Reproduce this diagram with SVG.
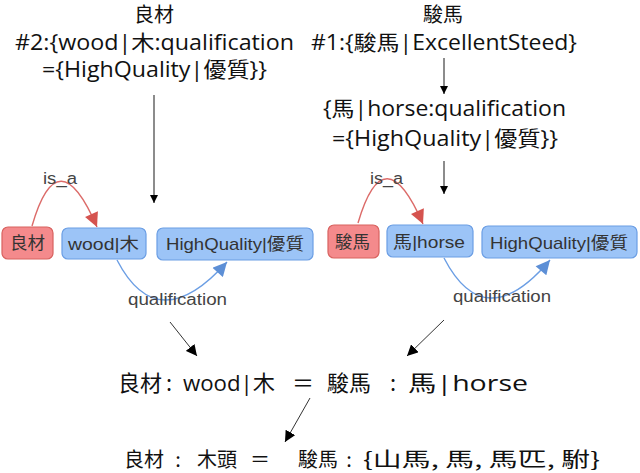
<svg xmlns="http://www.w3.org/2000/svg" width="640" height="473" viewBox="0 0 640 473">
<style>
.t{font-family:"Open Sans","Noto Sans CJK TC",sans-serif;fill:#111;}
.c{font-family:"Noto Sans CJK TC","Noto Sans CJK SC",sans-serif;fill:#111;}
.nl{font-family:"Liberation Sans","Noto Sans CJK TC",sans-serif;font-size:17px;fill:#333;}
.lbl{font-family:"Liberation Sans",sans-serif;font-size:16px;fill:#444;}
.red{fill:#f48a8c;stroke:#d8625f;stroke-width:1.2;}
.blue{fill:#9cc4f7;stroke:#6b9ee4;stroke-width:1.2;}
.blk{stroke:#666;stroke-width:1.5;fill:none;}
.thin{stroke:#333;stroke-width:1;fill:none;}
</style>
<defs>
<marker id="ah" viewBox="0 0 10 10" refX="10" refY="5" markerWidth="8" markerHeight="8" markerUnits="userSpaceOnUse" orient="auto"><path d="M0,0 L10,5 L0,10 z" fill="#000"/></marker>
<marker id="ah2" viewBox="0 0 10 10" refX="10" refY="5" markerWidth="11" markerHeight="11" markerUnits="userSpaceOnUse" orient="auto"><path d="M0,0 L10,5 L0,10 z" fill="#000"/></marker>
<marker id="ar" viewBox="0 0 10 10" refX="10" refY="5" markerWidth="16" markerHeight="14" markerUnits="userSpaceOnUse" orient="auto"><path d="M0,0 L10,5 L0,10 z" fill="#d5534f"/></marker>
<marker id="ab" viewBox="0 0 10 10" refX="10" refY="5" markerWidth="16" markerHeight="14" markerUnits="userSpaceOnUse" orient="auto"><path d="M0,0 L10,5 L0,10 z" fill="#5d8fd6"/></marker>
</defs>

<g id="top-left-text">
<text class="c" x="154" y="22" font-size="20" text-anchor="middle">良材</text>
<text class="t" x="15" y="50" font-size="21" textLength="279" lengthAdjust="spacingAndGlyphs">#2:{wood|木:qualification</text>
<text class="t" x="42" y="77" font-size="21" textLength="225" lengthAdjust="spacingAndGlyphs">={HighQuality|優質}}</text>
</g>
<g id="top-right-text">
<text class="c" x="443" y="22" font-size="20" text-anchor="middle">駿馬</text>
<text class="t" x="311" y="50" font-size="21" textLength="266" lengthAdjust="spacingAndGlyphs">#1:{駿馬|ExcellentSteed}</text>
<text class="t" x="323" y="116" font-size="21" textLength="243" lengthAdjust="spacingAndGlyphs">{馬|horse:qualification</text>
<text class="t" x="332" y="146" font-size="21" textLength="226" lengthAdjust="spacingAndGlyphs">={HighQuality|優質}}</text>
</g>

<g id="node-liangcai">
<rect class="red" x="2" y="227" width="51" height="32" rx="6"/>
<text class="nl" x="10" y="249" textLength="35" lengthAdjust="spacingAndGlyphs">良材</text>
</g>
<g id="node-wood">
<rect class="blue" x="62" y="228" width="84" height="31" rx="6"/>
<text class="nl" x="68" y="249.5" textLength="71" lengthAdjust="spacingAndGlyphs">wood|木</text>
</g>
<g id="node-hq-left">
<rect class="blue" x="157" y="228" width="156" height="32" rx="6"/>
<text class="nl" x="166" y="250" textLength="138" lengthAdjust="spacingAndGlyphs">HighQuality|優質</text>
</g>
<g id="node-junma">
<rect class="red" x="328" y="225" width="51" height="33" rx="6"/>
<text class="nl" x="335" y="247.5" textLength="35" lengthAdjust="spacingAndGlyphs">駿馬</text>
</g>
<g id="node-horse">
<rect class="blue" x="387" y="225" width="86" height="32" rx="6"/>
<text class="nl" x="393" y="247.5" textLength="72" lengthAdjust="spacingAndGlyphs">馬|horse</text>
</g>
<g id="node-hq-right">
<rect class="blue" x="482" y="226" width="155" height="32" rx="6"/>
<text class="nl" x="490" y="248.5" textLength="138" lengthAdjust="spacingAndGlyphs">HighQuality|優質</text>
</g>

<g id="connectors">
<line class="blk" x1="154" y1="95" x2="154" y2="203" marker-end="url(#ah)"/>
<line class="blk" x1="444" y1="58" x2="444" y2="94" marker-end="url(#ah)"/>
<line class="blk" x1="444" y1="161" x2="444" y2="194" marker-end="url(#ah)"/>
<path d="M32,226 Q58,136 97,227" fill="none" stroke="#dc6b69" stroke-width="1.4" marker-end="url(#ar)"/>
<path d="M358,223 Q384,134 423,224" fill="none" stroke="#dc6b69" stroke-width="1.4" marker-end="url(#ar)"/>
<path d="M117,260 Q158,339 227,262" fill="none" stroke="#6b9ee4" stroke-width="1.4" marker-end="url(#ab)"/>
<path d="M444,258 Q485,337 550,260" fill="none" stroke="#6b9ee4" stroke-width="1.4" marker-end="url(#ab)"/>
<text class="lbl" x="43" y="184" textLength="34" lengthAdjust="spacingAndGlyphs">is_a</text>
<text class="lbl" x="370" y="184" textLength="33" lengthAdjust="spacingAndGlyphs">is_a</text>
<text class="lbl" x="128" y="305" textLength="99" lengthAdjust="spacingAndGlyphs">qualification</text>
<text class="lbl" x="453" y="302" textLength="98" lengthAdjust="spacingAndGlyphs">qualification</text>
<line class="thin" x1="170" y1="322" x2="197" y2="356" marker-end="url(#ah2)"/>
<line class="thin" x1="444" y1="320" x2="407" y2="356" marker-end="url(#ah2)"/>
<line class="thin" x1="310" y1="398" x2="285" y2="442" marker-end="url(#ah2)"/>
</g>

<g id="equation-1">
<text class="c" x="118" y="391" font-size="22">良材</text>
<text class="c" x="169" y="391" font-size="22" text-anchor="middle">:</text>
<text class="t" x="183" y="391" font-size="22" textLength="92" lengthAdjust="spacingAndGlyphs">wood|木</text>
<text class="c" x="292" y="391" font-size="22">＝</text>
<text class="c" x="327" y="391" font-size="22">駿馬</text>
<text class="c" x="393" y="391" font-size="22" text-anchor="middle">:</text>
<text class="t" x="408" y="391" font-size="22" textLength="120" lengthAdjust="spacingAndGlyphs">馬|horse</text>
</g>
<g id="equation-2">
<text class="c" x="124" y="467" font-size="20">良材</text>
<text class="c" x="178" y="467" font-size="20" text-anchor="middle">:</text>
<text class="c" x="197" y="467" font-size="20">木頭</text>
<text class="c" x="250" y="467" font-size="20">＝</text>
<text class="c" x="298" y="467" font-size="20">駿馬</text>
<text class="c" x="349" y="467" font-size="20" text-anchor="middle">:</text>
<text class="c" x="363" y="467" font-size="20" textLength="237" lengthAdjust="spacingAndGlyphs">{山馬, 馬, 馬匹, 駙}</text>
</g>
</svg>
